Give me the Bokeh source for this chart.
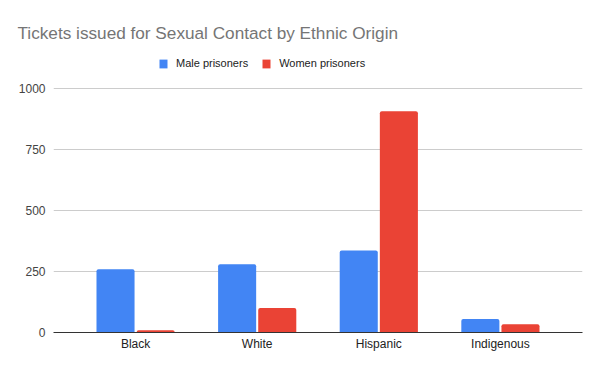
from bokeh.plotting import figure
from bokeh.models import ColumnDataSource, Range1d, Legend, LegendItem, FixedTicker
from bokeh.embed import file_html
from bokeh.resources import INLINE

categories = ["Black", "White", "Hispanic", "Indigenous"]
male = [259, 280, 336, 55]
women = [9, 100, 907, 34]
y_ticks = [0, 250, 500, 750, 1000]

xs = list(range(len(categories)))
src = ColumnDataSource(dict(
    xm=[x - 0.165 for x in xs], xw=[x + 0.165 for x in xs], male=male, women=women))

FONT = "Liberation Sans"
# frame extends above 1000 so the legend can sit inside it; 1000 units = 244 px
p = figure(width=592, height=363, output_backend="svg", toolbar_location=None,
           x_range=Range1d(-0.675, 3.675), y_range=Range1d(0, 1176),
           min_border_left=53, min_border_right=10, min_border_top=45, min_border_bottom=31)
p.outline_line_color = None
p.background_fill_color = "white"
p.border_fill_color = "white"

p.title.text = "Tickets issued for Sexual Contact by Ethnic Origin"
p.title.text_font = FONT
p.title.text_font_size = "17.2px"
p.title.text_font_style = "normal"
p.title.text_color = "#757575"
p.title.offset = -36
p.title.standoff = 5

r1 = p.vbar(x="xm", top="male", width=0.313, source=src, fill_color="#4285F4", line_color=None,
            border_radius=(2, 2, 0, 0))
r2 = p.vbar(x="xw", top="women", width=0.313, source=src, fill_color="#EA4335", line_color=None,
            border_radius=(2, 2, 0, 0))

p.xgrid.grid_line_color = None
p.ygrid.grid_line_color = "#cccccc"
p.ygrid.ticker = FixedTicker(ticks=y_ticks)

p.yaxis.ticker = FixedTicker(ticks=y_ticks)
p.yaxis.axis_line_color = None
p.yaxis.major_tick_line_color = None
p.yaxis.minor_tick_line_color = None
p.yaxis.major_tick_out = 0
p.yaxis.major_tick_in = 0
p.yaxis.major_label_standoff = 8
p.yaxis.major_label_text_font = FONT
p.yaxis.major_label_text_font_size = "12px"
p.yaxis.major_label_text_color = "#444444"

p.xaxis.ticker = FixedTicker(ticks=xs)
p.xaxis.major_label_overrides = {i: c for i, c in enumerate(categories)}
p.xaxis.axis_line_color = "#333333"
p.xaxis.major_tick_line_color = None
p.xaxis.minor_tick_line_color = None
p.xaxis.major_tick_out = 0
p.xaxis.major_tick_in = 0
p.xaxis.major_label_standoff = 4
p.xaxis.major_label_text_font = FONT
p.xaxis.major_label_text_font_size = "12px"
p.xaxis.major_label_text_color = "#222222"

legend = Legend(items=[LegendItem(label="Male prisoners", renderers=[r1]),
                       LegendItem(label="Women prisoners", renderers=[r2])],
                orientation="horizontal", location=(105, 263),
                label_text_font=FONT, label_text_font_size="11px", label_text_color="#222222",
                glyph_width=10, glyph_height=11, label_standoff=8, spacing=13,
                border_line_color=None, background_fill_alpha=0, padding=0, margin=0)
p.add_layout(legend, "center")

open("out.html", "w").write(file_html(p, INLINE))
